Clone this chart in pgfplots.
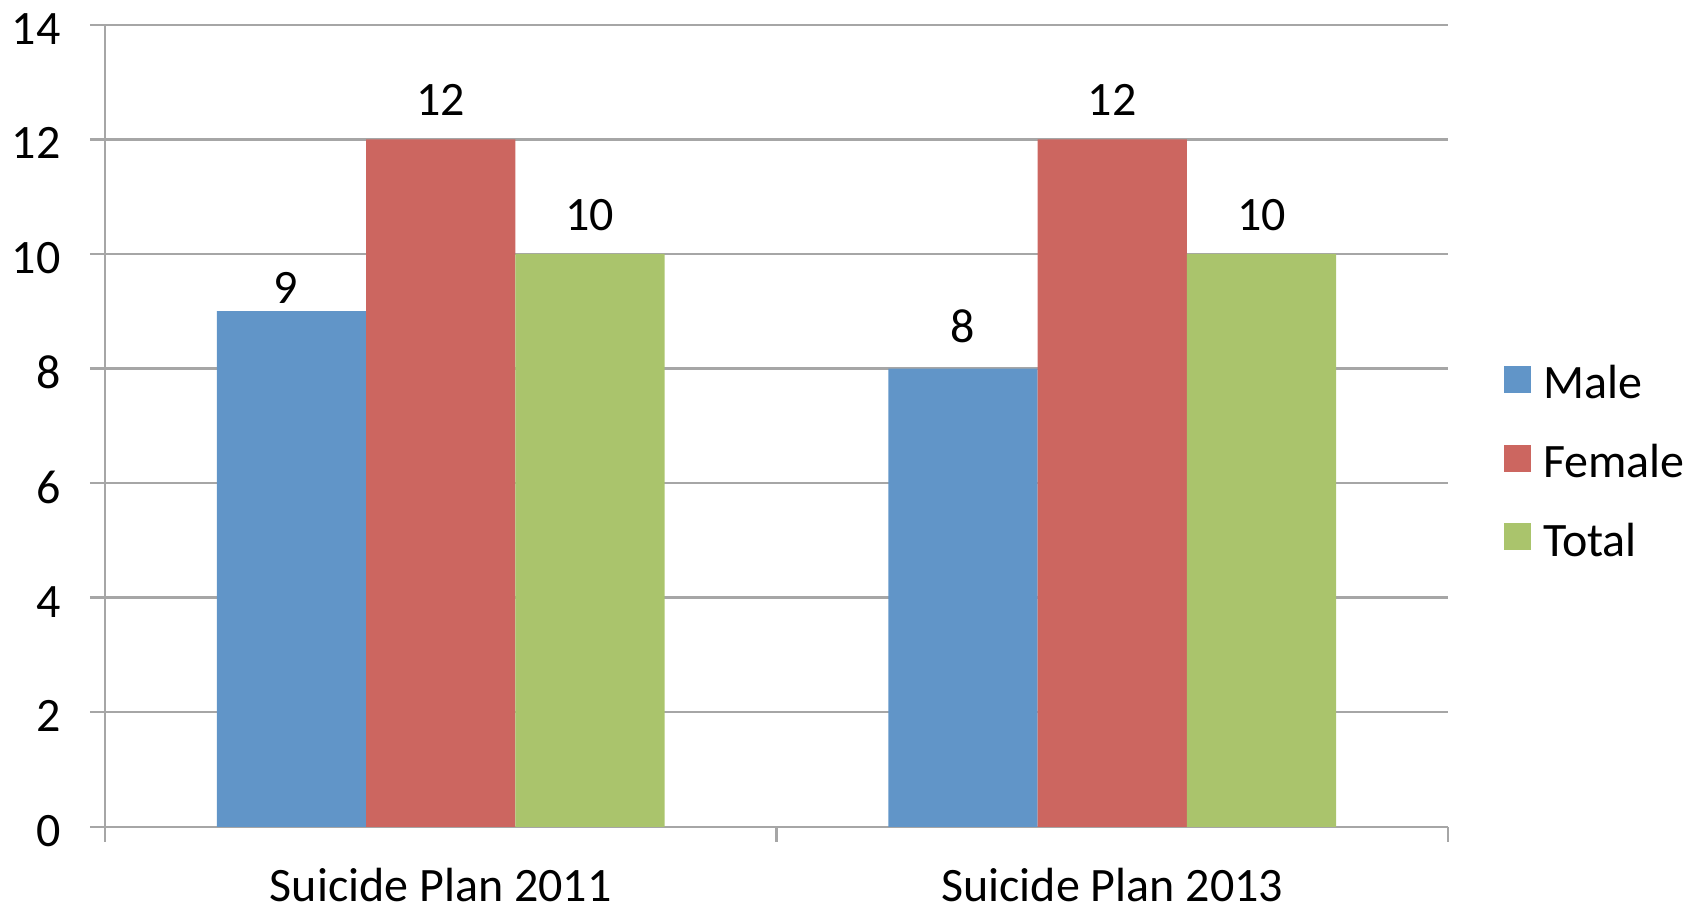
\documentclass[12pt,border=0pt]{standalone}
\usepackage{fontspec}
\setmainfont{Carlito}
\usepackage{pgfplots}
\usepackage{pgfplotstable}
\pgfplotsset{compat=1.18}
\definecolor{cmale}{RGB}{97,149,200}
\definecolor{cfemale}{RGB}{204,102,96}
\definecolor{ctotal}{RGB}{170,196,108}
\definecolor{gridc}{RGB}{166,166,166}
\pgfplotstableread{
x y dx dy
0 9 -1.35 2
1 8 0 6.5
}\male
\pgfplotstableread{
x y dx dy
0 12 0 6
1 12 0 6
}\female
\pgfplotstableread{
x y dx dy
0 10 0 5.8
1 10 0 5.8
}\total
\begin{document}
\begin{tikzpicture}
\begin{axis}[
  ybar=0pt, bar width=37.3pt,
  width=335.75pt, height=200.5pt, scale only axis,
  xmin=-0.5, xmax=1.5, ymin=0, ymax=14,
  ytick={0,2,...,14},
  xtick={-0.5,0.5,1.5}, xticklabels={},
  extra x ticks={0,1},
  extra x tick labels={Suicide Plan 2011,Suicide Plan 2013},
  extra x tick style={major tick length=0pt, grid=none},
  axis lines*=left,
  axis line style={-, draw=gridc, line width=0.6pt},
  tick style={draw=gridc, line width=0.6pt},
  tick align=outside, major tick length=3.75pt,
  ymajorgrids, grid style={draw=gridc, line width=0.6pt},
  /pgf/number format/assume math mode=true,
  yticklabel style={inner sep=0pt, anchor=east, xshift=-7.2pt, yshift=-1pt},
  xticklabel style={inner sep=0pt, yshift=-10.2pt},
  visualization depends on={\thisrow{dx} \as \mydx},
  visualization depends on={\thisrow{dy} \as \mydy},
  nodes near coords,
  nodes near coords style={anchor=base, inner sep=0pt, yshift=\mydy pt, xshift=\mydx pt, text=black},
  legend cell align=left,
  legend style={at={(axis description cs:1.0417,0.5746)}, anchor=north west,
    draw=none, fill=none, inner sep=0pt, outer sep=0pt, row sep=8.4pt, column sep=3pt,
    nodes={inner sep=0pt, text height=8pt, text depth=3pt}},
  legend image code/.code={\fill[#1,draw=none] (0pt,-1.0pt) rectangle (6.75pt,5.75pt);},
]
\addplot[fill=cmale, draw=none] table[x=x, y=y] {\male};
\addplot[fill=cfemale, draw=none] table[x=x, y=y] {\female};
\addplot[fill=ctotal, draw=none] table[x=x, y=y] {\total};
\legend{Male,Female,Total}
\end{axis}
\pgfresetboundingbox
\path[use as bounding box] (-26.25pt,-20.8pt) rectangle (395.75pt,206.7pt);
\end{tikzpicture}
\end{document}
